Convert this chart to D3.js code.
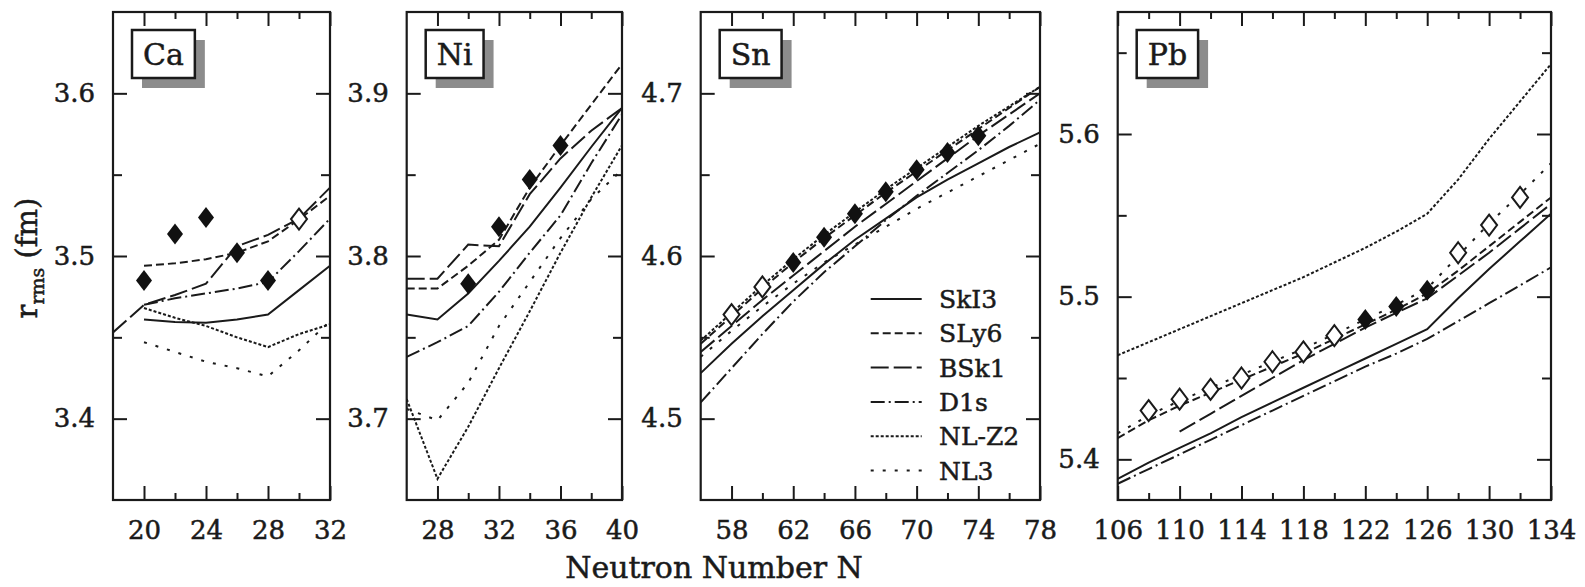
<!DOCTYPE html>
<html>
<head>
<meta charset="utf-8">
<style>
  body { margin: 0; background: #fff; }
  svg text { font-family: "DejaVu Serif", serif; fill: #1a1a1a; stroke: #1a1a1a; stroke-width: 0.5px; }
  .tick line { stroke: #1a1a1a; stroke-width: 2; }
</style>
</head>
<body>
<svg id="chart" width="1585" height="587"></svg>
<script src="https://cdn.jsdelivr.net/npm/d3@7"></script>
<script>
// models in legend order
const models = ["SkI3", "SLy6", "BSk1", "D1s", "NL-Z2", "NL3"];

// Ca
const caN = [18, 20, 22, 24, 26, 28, 30, 32];
const caCalc = {
  "SkI3":  [null, 3.461, 3.4595, 3.459, 3.461, 3.464, 3.479, 3.494],
  "SLy6":  [null, 3.494, 3.4955, 3.498, 3.502, 3.509, 3.5225, 3.537],
  "BSk1":  [3.453, 3.470, 3.476, 3.483, 3.506, 3.513, 3.523, 3.542],
  "D1s":   [null, 3.470, 3.474, 3.477, 3.480, 3.484, 3.503, 3.523],
  "NL-Z2": [null, 3.468, 3.462, 3.457, 3.450, 3.444, 3.452, 3.458],
  "NL3":   [null, 3.447, 3.441, 3.435, 3.431, 3.426, 3.442, 3.460]
};
const caFullN = [20, 22, 24, 26, 28];
const caFullR = [3.485, 3.5135, 3.5237, 3.502, 3.485];
const caOpenN = [30];
const caOpenR = [3.5227];

// Ni
const niN = [26, 28, 30, 32, 34, 36, 38, 40];
const niCalc = {
  "SkI3":  [3.764, 3.761, 3.777, 3.797, 3.818, 3.842, 3.867, 3.891],
  "SLy6":  [3.780, 3.780, 3.794, 3.810, 3.842, 3.868, 3.893, 3.918],
  "BSk1":  [3.786, 3.786, 3.807, 3.806, 3.838, 3.860, 3.877, 3.891],
  "D1s":   [3.738, 3.747, 3.757, 3.778, 3.802, 3.825, 3.857, 3.887],
  "NL-Z2": [3.712, 3.663, 3.695, 3.731, 3.766, 3.802, 3.836, 3.868],
  "NL3":   [3.706, 3.699, 3.722, 3.757, 3.784, 3.811, 3.835, 3.853]
};
const niFullN = [30, 32, 34, 36];
const niFullR = [3.783, 3.818, 3.847, 3.868];
const niOpenN = [];
const niOpenR = [];

// Sn
const snN = [56, 58, 60, 62, 64, 66, 68, 70, 72, 74, 76, 78];
const snCalc = {
  "SkI3":  [4.528, 4.546, 4.563, 4.579, 4.595, 4.610, 4.623, 4.636, 4.647, 4.657, 4.667, 4.676],
  "SLy6":  [4.546, 4.563, 4.580, 4.596, 4.611, 4.625, 4.639, 4.652, 4.665, 4.678, 4.691, 4.704],
  "BSk1":  [4.541, 4.557, 4.573, 4.588, 4.603, 4.618, 4.632, 4.646, 4.660, 4.674, 4.687, 4.700],
  "D1s":   [4.510, 4.531, 4.552, 4.572, 4.590, 4.606, 4.622, 4.637, 4.651, 4.665, 4.680, 4.696],
  "NL-Z2": [4.548, 4.565, 4.582, 4.598, 4.613, 4.627, 4.641, 4.654, 4.667, 4.680, 4.692, 4.704],
  "NL3":   [4.538, 4.554, 4.569, 4.583, 4.596, 4.607, 4.618, 4.629, 4.639, 4.649, 4.659, 4.669]
};
const snFullN = [62, 64, 66, 68, 70, 72, 74];
const snFullR = [4.596, 4.6115, 4.626, 4.6395, 4.653, 4.6636, 4.674];
const snOpenN = [58, 60];
const snOpenR = [4.564, 4.581];

// Pb
const pbN = [106, 108, 110, 112, 114, 116, 118, 120, 122, 124, 126, 128, 130, 132, 134];
const pbCalc = {
  "SkI3":  [5.388, 5.398, 5.407, 5.416, 5.426, 5.435, 5.444, 5.453, 5.462, 5.471, 5.480, 5.499, 5.517, 5.534, 5.551],
  "SLy6":  [5.413, 5.424, 5.433, 5.441, 5.449, 5.457, 5.465, 5.474, 5.483, 5.492, 5.502, 5.516, 5.531, 5.546, 5.561],
  "BSk1":  [null, null, 5.417, 5.428, 5.439, 5.450, 5.461, 5.471, 5.481, 5.490, 5.499, 5.513, 5.527, 5.542, 5.557],
  "D1s":   [5.385, 5.394, 5.403, 5.412, 5.421, 5.430, 5.439, 5.448, 5.457, 5.465, 5.474, 5.485, 5.496, 5.507, 5.518],
  "NL-Z2": [5.464, 5.472, 5.480, 5.488, 5.496, 5.504, 5.512, 5.521, 5.530, 5.540, 5.551, 5.572, 5.597, 5.620, 5.643],
  "NL3":   [5.416, 5.427, 5.436, 5.444, 5.452, 5.460, 5.468, 5.477, 5.486, 5.495, 5.505, 5.525, 5.545, 5.563, 5.582]
};
const pbFullN = [122, 124, 126];
const pbFullR = [5.486, 5.494, 5.504];
const pbOpenN = [108, 110, 112, 114, 116, 118, 120, 128, 130, 132];
const pbOpenR = [5.430, 5.437, 5.443, 5.450, 5.460, 5.466, 5.476, 5.527, 5.544, 5.561];

// tick labels
const caXTicks = [20, 24, 28, 32], caXMinor = [22, 26, 30];
const niXTicks = [28, 32, 36, 40], niXMinor = [30, 34, 38];
const snXTicks = [58, 62, 66, 70, 74, 78], snXMinor = [60, 64, 68, 72, 76];
const pbXTicks = [106, 110, 114, 118, 122, 126, 130, 134], pbXMinor = [108, 112, 116, 120, 124, 128, 132];
const caYTicks = [3.4, 3.5, 3.6], caYMinor = [3.45, 3.55];
const niYTicks = [3.7, 3.8, 3.9], niYMinor = [3.75, 3.85];
const snYTicks = [4.5, 4.6, 4.7], snYMinor = [4.55, 4.65];
const pbYTicks = [5.4, 5.5, 5.6], pbYMinor = [5.45, 5.55, 5.65];

// line styles
const dash = {
  "SkI3": null, "SLy6": "8,4", "BSk1": "18,5",
  "D1s": "14,4,2,4", "NL-Z2": "3,2", "NL3": "3,9"
};

let svg = d3.select("#chart")
let plotTop = 12, plotBottom = 500

let panels = [
  {name: "Ca", N: caN, calc: caCalc, fullN: caFullN, fullR: caFullR, openN: caOpenN, openR: caOpenR,
   nDom: [18, 32], rDom: [3.35, 3.65], x0: 113, x1: 330, xt: caXTicks, xm: caXMinor, yt: caYTicks, ym: caYMinor},
  {name: "Ni", N: niN, calc: niCalc, fullN: niFullN, fullR: niFullR, openN: niOpenN, openR: niOpenR,
   nDom: [26, 40], rDom: [3.65, 3.95], x0: 406.7, x1: 622, xt: niXTicks, xm: niXMinor, yt: niYTicks, ym: niYMinor},
  {name: "Sn", N: snN, calc: snCalc, fullN: snFullN, fullR: snFullR, openN: snOpenN, openR: snOpenR,
   nDom: [56, 78], rDom: [4.45, 4.75], x0: 700.7, x1: 1040, xt: snXTicks, xm: snXMinor, yt: snYTicks, ym: snYMinor},
  {name: "Pb", N: pbN, calc: pbCalc, fullN: pbFullN, fullR: pbFullR, openN: pbOpenN, openR: pbOpenR,
   nDom: [106, 134], rDom: [5.375, 5.675], x0: 1117.7, x1: 1551, xt: pbXTicks, xm: pbXMinor, yt: pbYTicks, ym: pbYMinor}
]

let diamond = "M0,-10.5L8,0L0,10.5L-8,0Z"

svg.append("defs").selectAll("clipPath").data(panels).enter()
  .append("clipPath").attr("id", d => "clip" + d.name)
  .append("rect")
  .attr("x", d => d.x0).attr("y", plotTop)
  .attr("width", d => d.x1 - d.x0).attr("height", plotBottom - plotTop)

panels.forEach(p => {
  let x = d3.scaleLinear().domain(p.nDom).range([p.x0, p.x1])
  let y = d3.scaleLinear().domain(p.rDom).range([plotBottom, plotTop])
  let g = svg.append("g")

  let lines = g.append("g").attr("clip-path", `url(#clip${p.name})`)
  let line = d3.line().defined(d => d[1] != null).x(d => x(d[0])).y(d => y(d[1]))
  models.forEach(m => {
    let pts = p.N.map((n, i) => [n, p.calc[m][i]])
    lines.append("path").datum(pts)
      .attr("d", line)
      .attr("fill", "none")
      .attr("stroke", "#1a1a1a")
      .attr("stroke-width", 2)
      .attr("stroke-dasharray", dash[m])
  })

  // experimental points
  g.selectAll("path.open").data(p.openN.map((n, i) => [n, p.openR[i]])).enter()
    .append("path").attr("class", "open")
    .attr("d", diamond)
    .attr("transform", d => `translate(${x(d[0])},${y(d[1])})`)
    .attr("fill", "#fff").attr("stroke", "#1a1a1a").attr("stroke-width", 2)
  g.selectAll("path.full").data(p.fullN.map((n, i) => [n, p.fullR[i]])).enter()
    .append("path").attr("class", "full")
    .attr("d", diamond)
    .attr("transform", d => `translate(${x(d[0])},${y(d[1])})`)
    .attr("fill", "#111")

  // axes, ticks inward
  let ax = (axis, tx, ty) => {
    let a = g.append("g").attr("transform", `translate(${tx},${ty})`).call(axis)
    a.select(".domain").remove()
    return a
  }
  let bottom = ax(d3.axisBottom(x).tickValues(p.xt).tickSize(-14).tickPadding(21).tickFormat(d3.format("d")), 0, plotBottom)
  ax(d3.axisBottom(x).tickValues(p.xm).tickSize(-7).tickFormat(""), 0, plotBottom)
  ax(d3.axisTop(x).tickValues(p.xt).tickSize(-14).tickFormat(""), 0, plotTop)
  ax(d3.axisTop(x).tickValues(p.xm).tickSize(-7).tickFormat(""), 0, plotTop)
  let left = ax(d3.axisLeft(y).tickValues(p.yt).tickSize(-14).tickPadding(18).tickFormat(d3.format(".1f")), p.x0, 0)
  ax(d3.axisLeft(y).tickValues(p.ym).tickSize(-9).tickFormat(""), p.x0, 0)
  ax(d3.axisRight(y).tickValues(p.yt).tickSize(-14).tickFormat(""), p.x1, 0)
  ax(d3.axisRight(y).tickValues(p.ym).tickSize(-9).tickFormat(""), p.x1, 0)
  bottom.selectAll("text").style("font-size", "26px").style("font-family", "DejaVu Serif")
  left.selectAll("text").style("font-size", "26px").style("font-family", "DejaVu Serif")

  g.append("rect")
    .attr("x", p.x0).attr("y", plotTop)
    .attr("width", p.x1 - p.x0).attr("height", plotBottom - plotTop)
    .attr("fill", "none").attr("stroke", "#1a1a1a").attr("stroke-width", 2.2)

  // element label box with shadow
  let lab = g.append("g").attr("transform", `translate(${p.x0 + 19},30)`)
  let shadow = lab.append("rect").attr("x", 10).attr("y", 10).attr("height", 48).attr("fill", "#8c8c8c")
  let box = lab.append("rect").attr("height", 48).attr("fill", "#fff").attr("stroke", "#1a1a1a").attr("stroke-width", 2.5)
  let t = lab.append("text").text(p.name).attr("y", 35).style("font-size", "30px")
  let w = t.node().getComputedTextLength() + 22
  t.attr("x", w / 2).attr("text-anchor", "middle")
  box.attr("width", w)
  shadow.attr("width", w)

  if (p.name == "Sn") {
    let leg = g.append("g")
    models.forEach((m, i) => {
      let ly = 299 + i * 34.3
      leg.append("line")
        .attr("x1", 870.7).attr("x2", 921.7).attr("y1", ly).attr("y2", ly)
        .attr("stroke", "#1a1a1a").attr("stroke-width", 2)
        .attr("stroke-dasharray", dash[m])
      leg.append("text").text(m)
        .attr("x", 939).attr("y", ly).attr("dy", "0.36em")
        .style("font-size", "25px")
    })
  }
})

// axis titles
svg.append("text")
  .attr("x", 714).attr("y", 578)
  .attr("text-anchor", "middle")
  .style("font-size", "30px")
  .text("Neutron Number N")

let yt = svg.append("text")
  .attr("transform", "translate(37,258) rotate(-90)")
  .attr("text-anchor", "middle")
  .style("font-size", "29px")
yt.append("tspan").text("r")
yt.append("tspan").text("rms").attr("dy", 7).style("font-size", "19px")
yt.append("tspan").text(" (fm)").attr("dy", -7)
</script>
</body>
</html>
